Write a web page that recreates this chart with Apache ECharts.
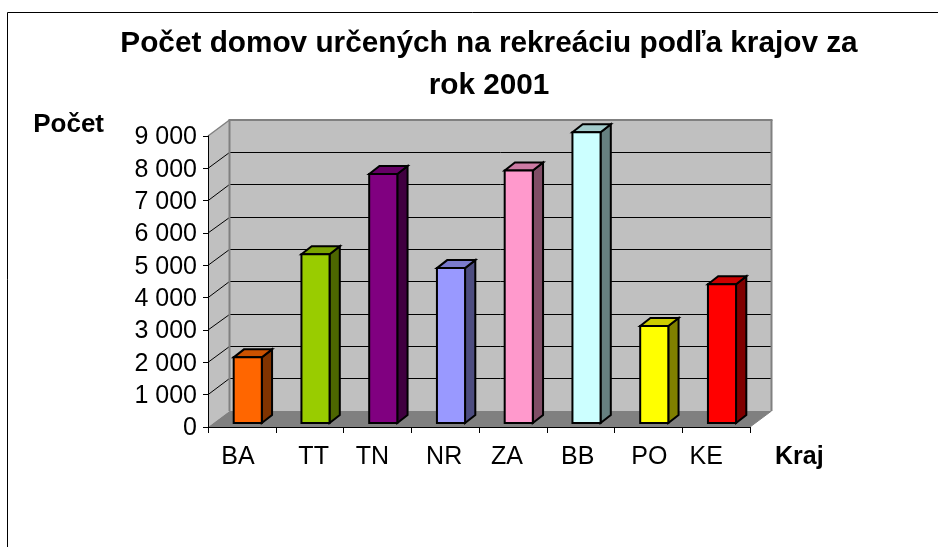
<!DOCTYPE html>
<html>
<head>
<meta charset="utf-8">
<style>html,body{margin:0;padding:0;background:#fff}#c{width:938px;height:547px}</style>
<script src="https://cdn.jsdelivr.net/npm/echarts@6/dist/echarts.min.js"></script>
</head>
<body>
<div id="c"></div>
<script>
const categories = ['BA','TT','TN','NR','ZA','BB','PO','KE'];
const counts = [2030, 5220, 7700, 4790, 7810, 8990, 3000, 4290];
const frontColors = ['#FF6600','#99CC00','#800080','#9999FF','#FF99CC','#CCFFFF','#FFFF00','#FF0000'];
const topColors = ['#CC5200','#7AA300','#660066','#7A7ACC','#CC7AA3','#A3CCCC','#CCCC00','#CC0000'];
const sideColors = ['#803300','#4D6600','#400040','#4D4D80','#804D66','#668080','#808000','#800000'];
const yTicks = [0,1000,2000,3000,4000,5000,6000,7000,8000,9000];
const yTitle = 'Počet';
const xTitle = 'Kraj';
const chartTitle = 'Počet domov určených na rekreáciu podľa krajov za\nrok 2001';

// layout of the pseudo-3D view
const wallDX = 21.5, wallDY = -16;
const labelShift = [-8,8,-10,-2,-12,-6,2,-20];

const poly = (points, fill, stroke, lw) => ({
  type:'polygon', shape:{points},
  style:{fill, stroke:stroke||null, lineWidth:lw||0, lineJoin:'miter'}
});
const line = (a,b,stroke,lw) => ({
  type:'line', shape:{x1:a[0],y1:a[1],x2:b[0],y2:b[1]},
  style:{stroke, lineWidth:lw}
});

function renderWalls(params, api){
  const g = params.coordSys, L=g.x, R=g.x+g.width, B=g.y+g.height, T=g.y;
  const d=[wallDX,wallDY];
  const kids = [
    poly([[L+d[0],T+d[1]],[R+d[0],T+d[1]],[R+d[0],B+d[1]],[L+d[0],B+d[1]]],'#C0C0C0'),
    poly([[L,T],[L+d[0],T+d[1]],[L+d[0],B+d[1]],[L,B]],'#C0C0C0'),
    poly([[L,B],[R,B],[R+d[0],B+d[1]],[L+d[0],B+d[1]]],'#808080')
  ];
  yTicks.forEach(v=>{
    if(v===0||v===9000) return;
    const y=api.coord([0,v])[1];
    const yw=Math.floor(y+d[1])+0.5;
    kids.push(line([L,y],[L+d[0],yw],'#000',1));
    kids.push(line([L+d[0],yw],[R+d[0],yw],'#000',1));
  });
  kids.push(line([L,T],[L+d[0],T+d[1]],'#808080',1.5));
  kids.push(line([L+d[0]-1,T+d[1]],[R+d[0]+1,T+d[1]],'#808080',2));
  kids.push(line([L+d[0],T+d[1]],[L+d[0],B+d[1]],'#808080',2));
  kids.push(line([R+d[0],T+d[1]],[R+d[0],B+d[1]],'#808080',2));
  kids.push(line([R,B],[R+d[0],B+d[1]],'#808080',1));
  return {type:'group',silent:true,children:kids};
}

function renderBar(params, api){
  const i=api.value(0), c=api.coord([i,api.value(1)]), b=api.coord([i,0]);
  const w=api.size([1,0])[0]*0.415, dx=wallDX/2-0.5, dy=wallDY/2;
  const ox=wallDX/4+0.5, oy=wallDY/4;
  const x0=c[0]+ox-w/2, x1=x0+w, yb=b[1]+oy, yt=c[1]+oy;
  const st='#000', lw=2;
  return {type:'group',children:[
    poly([[x1,yt],[x1+dx,yt+dy],[x1+dx,yb+dy],[x1,yb]],sideColors[i],st,lw),
    poly([[x0,yt],[x0+dx,yt+dy],[x1+dx,yt+dy],[x1,yt]],topColors[i],st,lw),
    poly([[x0,yt],[x1,yt],[x1,yb],[x0,yb]],frontColors[i],st,lw)
  ]};
}

const chart = echarts.init(document.getElementById('c'),null,{renderer:'canvas'});
chart.setOption({
  animation:false,
  backgroundColor:'#fff',
  title:{
    text:chartTitle, left:484, top:18, textAlign:'center',
    textStyle:{fontFamily:'Liberation Sans',fontWeight:'bold',fontSize:29.75,lineHeight:42,color:'#000'}
  },
  graphic:[
    {type:'line',shape:{x1:7.5,y1:12.5,x2:938,y2:12.5},style:{stroke:'#000',lineWidth:1},silent:true},
    {type:'line',shape:{x1:7.5,y1:12.5,x2:7.5,y2:547},style:{stroke:'#000',lineWidth:1},silent:true}
  ],
  grid:{left:208,top:136,width:542,height:291,containLabel:false},
  xAxis:{
    type:'category',
    data:categories.map((c,i)=>({
      value:c,
      textStyle: labelShift[i]<0 ? {padding:[0,-labelShift[i],0,0]} : {padding:[0,0,0,labelShift[i]]}
    })),
    name:xTitle, nameLocation:'end', nameGap:25,
    nameTextStyle:{fontFamily:'Liberation Sans',fontWeight:'bold',fontSize:25,color:'#000',verticalAlign:'top',padding:[18,0,0,0]},
    axisLine:{show:true,lineStyle:{color:'#000',width:1}},
    axisTick:{show:true,length:6,alignWithLabel:false,lineStyle:{color:'#000',width:1}},
    axisLabel:{interval:0,margin:18,fontFamily:'Liberation Sans',fontSize:25,color:'#000'},
    splitLine:{show:false},
    z:6
  },
  yAxis:{
    type:'value',min:0,max:9000,interval:1000,
    name:yTitle, nameLocation:'end', nameGap:11,
    nameTextStyle:{fontFamily:'Liberation Sans',fontWeight:'bold',fontSize:26,color:'#000',align:'right',verticalAlign:'middle',padding:[0,104,0,0]},
    axisLine:{show:true,lineStyle:{color:'#000',width:1}},
    axisTick:{show:true,length:5,lineStyle:{color:'#000',width:1}},
    axisLabel:{margin:11,verticalAlign:'top',lineHeight:3,fontFamily:'Liberation Sans',fontSize:25,color:'#000',
      formatter:v=>String(v).replace(/\B(?=(\d{3})+$)/g,' ')},
    splitLine:{show:false},
    z:6
  },
  series:[
    {type:'custom',name:'walls',renderItem:renderWalls,data:[[0,0]],encode:{x:0,y:1},clip:false,silent:true,z:1},
    {type:'custom',name:yTitle,renderItem:renderBar,data:counts.map((v,i)=>[i,v]),encode:{x:0,y:1},clip:false,z:8}
  ]
});
</script>
</body>
</html>
